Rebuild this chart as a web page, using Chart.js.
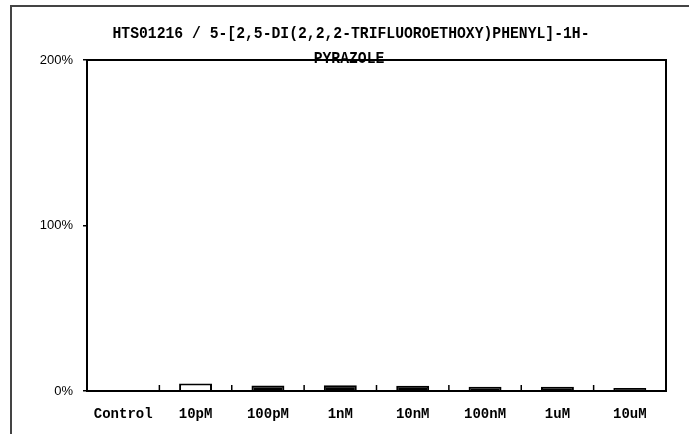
<!DOCTYPE html>
<html>
<head>
<meta charset="utf-8">
<script src="https://cdn.jsdelivr.net/npm/chart.js@4.4.0/dist/chart.umd.min.js"></script>
<style>
    body { margin: 0; background: #fff; }
    #wrap { position: relative; width: 689px; height: 434px; }
    #frame {
        position: absolute; left: 10px; top: 5px; width: 690px; height: 440px;
        border-left: 2px solid #444; border-top: 2px solid #444;
    }
    canvas { position: absolute; left: 0; top: 0; }
</style>
</head>
<body>
<div id="wrap">
    <div id="frame"></div>
    <canvas id="chart" width="689" height="434"></canvas>
</div>
<script>
const titleLines = ["HTS01216 / 5-[2,5-DI(2,2,2-TRIFLUOROETHOXY)PHENYL]-1H-", "PYRAZOLE"];
const doses = ["Control", "10pM", "100pM", "1nM", "10nM", "100nM", "1uM", "10uM"];
const responses = [0.5, 4.5, 3.3, 3.4, 3.2, 2.6, 2.6, 1.8];
const barFills = ["#000", "#fff", "#000", "#000", "#000", "#000", "#000", "#000"];
const yTicks = [0, 100, 200];

// frame, inner tick marks and the (narrow, tall) title
const extras = {
    id: "extras",
    afterDraw(chart) {
        const ctx = chart.ctx;
        const area = chart.chartArea;
        const x = chart.scales.x;
        ctx.save();
        ctx.strokeStyle = "#000";
        ctx.lineWidth = 2;
        ctx.strokeRect(area.left, area.top, area.right - area.left, area.bottom - area.top);

        // small marks between categories
        ctx.lineWidth = 1.5;
        for (let i = 1; i < doses.length; i++) {
            const px = (x.getPixelForValue(i - 1) + x.getPixelForValue(i)) / 2;
            ctx.beginPath();
            ctx.moveTo(px, area.bottom);
            ctx.lineTo(px, area.bottom - 6);
            ctx.stroke();
        }
        ctx.restore();

        ctx.save();
        ctx.fillStyle = "#000";
        ctx.font = "bold 16px 'Liberation Mono'";
        ctx.textAlign = "center";
        ctx.textBaseline = "middle";
        const sx = 0.92;
        ctx.scale(sx, 1);
        ctx.fillText(titleLines[0], 351 / sx, 34);
        ctx.fillText(titleLines[1], 349 / sx, 59);
        ctx.restore();
    }
};

new Chart(document.getElementById("chart"), {
    type: "bar",
    data: {
        labels: doses,
        datasets: [{
            data: responses,
            backgroundColor: barFills,
            borderColor: "#000",
            borderWidth: 2,
            barPercentage: 0.455,
            categoryPercentage: 1
        }]
    },
    options: {
        responsive: false,
        animation: false,
        layout: { padding: { left: 0, right: 23, top: 60, bottom: 0 } },
        plugins: {
            legend: { display: false },
            title: { display: false },
            tooltip: { enabled: false }
        },
        scales: {
            x: {
                grid: { display: false, drawTicks: false },
                border: { display: true, color: "#000", width: 2 },
                ticks: {
                    color: "#000",
                    padding: 15,
                    font: { family: "Liberation Mono", size: 14, weight: "bold" }
                },
                afterFit(scale) { scale.height = 43; }
            },
            y: {
                min: 0,
                max: 200,
                afterBuildTicks(scale) { scale.ticks = yTicks.map(v => ({ value: v })); },
                grid: { drawOnChartArea: false, tickLength: 4, color: "#000", lineWidth: 1.5 },
                border: { display: true, color: "#000", width: 2 },
                ticks: {
                    color: "#000",
                    padding: 10,
                    font: { family: "Liberation Sans", size: 13 },
                    callback: v => v + "%"
                },
                afterFit(scale) { scale.width = 87; }
            }
        }
    },
    plugins: [extras]
});
</script>
</body>
</html>
